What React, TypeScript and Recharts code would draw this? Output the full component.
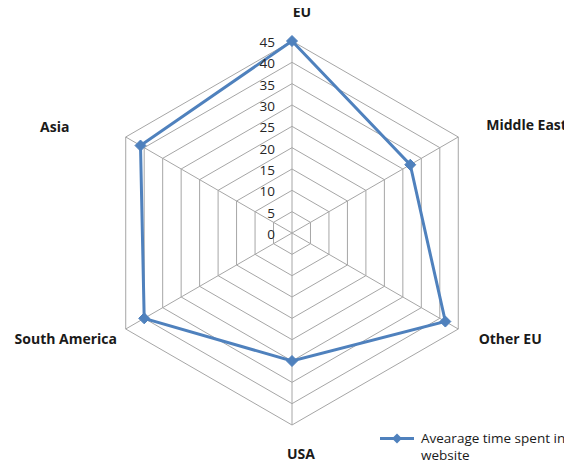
import React from 'react';
import { RadarChart, Radar, PolarGrid, PolarAngleAxis, PolarRadiusAxis, Legend } from 'recharts';

const regions = ['EU', 'Middle East', 'Other EU', 'USA', 'South America', 'Asia'];
const avgTime = [45, 32, 41.5, 30, 40, 41];
const radiusTicks = [0, 5, 10, 15, 20, 25, 30, 35, 40, 45];
const seriesName = 'Avearage time spent in website';

const data = regions.map((r, i) => ({ region: r, value: avgTime[i] }));

const FONT = '"Open Sans", sans-serif';
const BLUE = '#4f81bd';

// label placement tweaks relative to the default tick anchor (Excel-like layout)
const labelOffsets: Record<string, { dx: number; dy: number; anchor: string }> = {
  'EU': { dx: 10, dy: -22, anchor: 'middle' },
  'Middle East': { dx: 21, dy: -9, anchor: 'start' },
  'Other EU': { dx: 45, dy: 5, anchor: 'middle' },
  'USA': { dx: 9, dy: 20, anchor: 'middle' },
  'South America': { dx: -53, dy: 5, anchor: 'middle' },
  'Asia': { dx: -64, dy: -7, anchor: 'middle' },
};

const AngleTick = (props: any) => {
  const { x, y, payload } = props;
  const o = labelOffsets[payload.value] || { dx: 0, dy: 0, anchor: 'middle' };
  return (
    <text
      x={x + o.dx}
      y={y + o.dy}
      textAnchor={o.anchor}
      dominantBaseline="central"
      fontFamily={FONT}
      fontWeight="bold"
      fontSize={14}
      fill="#1a1a1a"
    >
      {payload.value}
    </text>
  );
};

const RadiusTick = (props: any) => {
  const { x, y, payload } = props;
  return (
    <text
      x={x - 17}
      y={y + 1}
      textAnchor="end"
      dominantBaseline="central"
      fontFamily={FONT}
      fontSize={13.5}
      fill="#262626"
    >
      {payload.value}
    </text>
  );
};

const Diamond = (props: any) => {
  const { cx, cy } = props;
  if (cx == null || cy == null) return null;
  const s = 5.5;
  return <path d={`M${cx},${cy - s} L${cx + s},${cy} L${cx},${cy + s} L${cx - s},${cy} Z`} fill={BLUE} stroke={BLUE} />;
};

const LegendContent = () => (
  <div style={{ display: 'flex', alignItems: 'flex-start', fontFamily: FONT, fontSize: 13.5, color: '#1a1a1a', lineHeight: '17px', width: 240 }}>
    <svg width={34} height={17} style={{ marginRight: 7, flexShrink: 0 }}>
      <line x1={0} y1={8.5} x2={34} y2={8.5} stroke={BLUE} strokeWidth={3} />
      <path d="M17,3.5 L22,8.5 L17,13.5 L12,8.5 Z" fill={BLUE} />
    </svg>
    <div style={{ width: 162, whiteSpace: 'normal' }}>{seriesName}</div>
  </div>
);

export default function App() {
  return (
    <div style={{ width: 572, height: 463, position: 'relative', left: -8, top: -8, overflow: 'hidden' }}>
      <RadarChart width={572} height={463} data={data} cx={292} cy={233} outerRadius={192} startAngle={90} endAngle={-270}>
        <PolarGrid gridType="polygon" stroke="#a6a6a6" strokeWidth={1} />
        <PolarAngleAxis dataKey="region" tick={<AngleTick />} tickLine={false} axisLine={false} />
        <PolarRadiusAxis
          angle={90}
          domain={[0, 45]}
          ticks={radiusTicks as any}
          tickCount={10}
          tick={<RadiusTick />}
          axisLine={false}
          tickLine={false}
        />
        <Radar
          name={seriesName}
          dataKey="value"
          stroke={BLUE}
          strokeWidth={3}
          fill="none"
          fillOpacity={0}
          dot={<Diamond />}
          isAnimationActive={false}
        />
        <Legend content={<LegendContent />} wrapperStyle={{ position: 'absolute', left: 380, top: 430, width: 240 }} />
      </RadarChart>
    </div>
  );
}
